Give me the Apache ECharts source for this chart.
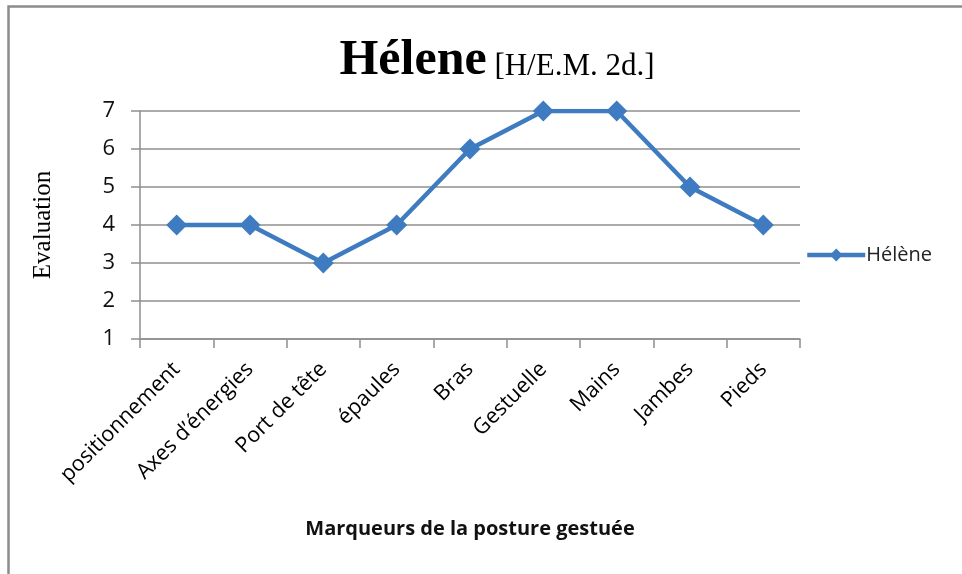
<!DOCTYPE html>
<html>
<head>
<meta charset="utf-8">
<script src="https://cdn.jsdelivr.net/npm/echarts@6/dist/echarts.min.js"></script>
<style>
  html, body { margin: 0; padding: 0; background: #fff; }
  #chart { width: 962px; height: 574px; }
</style>
</head>
<body>
<div id="chart"></div>
<script>
// Posture markers and the evaluation given for each
const categories = ['positionnement', 'Axes d\u2019énergies', 'Port de tête', 'épaules', 'Bras', 'Gestuelle', 'Mains', 'Jambes', 'Pieds'];
const seriesName = 'Hélène';
const scores = [4, 4, 3, 4, 6, 7, 7, 5, 4];
const yTicks = { min: 1, max: 7, interval: 1 };

const blue = '#3f7bc0';
const gridGray = '#8f8f8f';
const sans = '"Open Sans", "DejaVu Sans", sans-serif';
const serif = '"Liberation Serif", "DejaVu Serif", serif';

const chart = echarts.init(document.getElementById('chart'), null, { renderer: 'canvas' });

chart.setOption({
  backgroundColor: '#fff',
  animation: false,
  graphic: [{
    type: 'rect',
    shape: { x: 8.5, y: 6.5, width: 1000, height: 700 },
    style: { fill: null, stroke: '#8c8c8c', lineWidth: 2.5 },
    silent: true
  }],
  title: {
    text: '{a|Hélene}{b| [H/E.M. 2d.]}',
    left: 492,
    top: 31,
    textAlign: 'center',
    textStyle: {
      rich: {
        a: { fontFamily: serif, fontWeight: 'bold', fontSize: 50, color: '#000', verticalAlign: 'bottom', lineHeight: 50 },
        b: { fontFamily: serif, fontWeight: 'normal', fontSize: 31, color: '#000', verticalAlign: 'bottom', lineHeight: 42, padding: [0, 0, 4, 0] }
      }
    }
  },
  legend: {
    orient: 'vertical',
    left: 800,
    top: 240,
    itemWidth: 58,
    itemHeight: 16,
    itemGap: 6,
    lineStyle: { width: 4.5 },
    textStyle: { fontFamily: sans, fontSize: 20, color: '#222', padding: [0, 0, 0, -4] },
    data: [seriesName]
  },
  grid: { left: 140, right: 162, top: 111, bottom: 235, containLabel: false },
  xAxis: {
    type: 'category',
    data: categories,
    boundaryGap: true,
    name: 'Marqueurs de la posture gestuée',
    nameLocation: 'middle',
    nameGap: 180,
    nameTextStyle: { fontFamily: sans, fontWeight: 'bold', fontSize: 20, color: '#111' },
    axisLine: { lineStyle: { color: gridGray, width: 1.5 } },
    axisTick: { show: true, length: 9, alignWithLabel: false, lineStyle: { color: gridGray, width: 1.5 } },
    axisLabel: { rotate: 45, margin: 27, fontFamily: sans, fontSize: 21.5, color: '#000', interval: 0 }
  },
  yAxis: {
    type: 'value',
    min: yTicks.min,
    max: yTicks.max,
    interval: yTicks.interval,
    name: 'Evaluation',
    nameLocation: 'middle',
    nameRotate: 90,
    nameGap: 84,
    nameTextStyle: { fontFamily: serif, fontSize: 25, color: '#000' },
    axisLine: { show: true, lineStyle: { color: gridGray, width: 1.5 } },
    axisTick: { show: true, length: 9, lineStyle: { color: gridGray, width: 1.5 } },
    axisLabel: { margin: 25, fontFamily: sans, fontSize: 22, color: '#111' },
    splitLine: { show: true, lineStyle: { color: gridGray, width: 1.5 } }
  },
  series: [{
    name: seriesName,
    type: 'line',
    data: scores,
    symbol: 'diamond',
    symbolSize: 21,
    lineStyle: { color: blue, width: 4.5 },
    itemStyle: { color: blue }
  }]
});
</script>
</body>
</html>
